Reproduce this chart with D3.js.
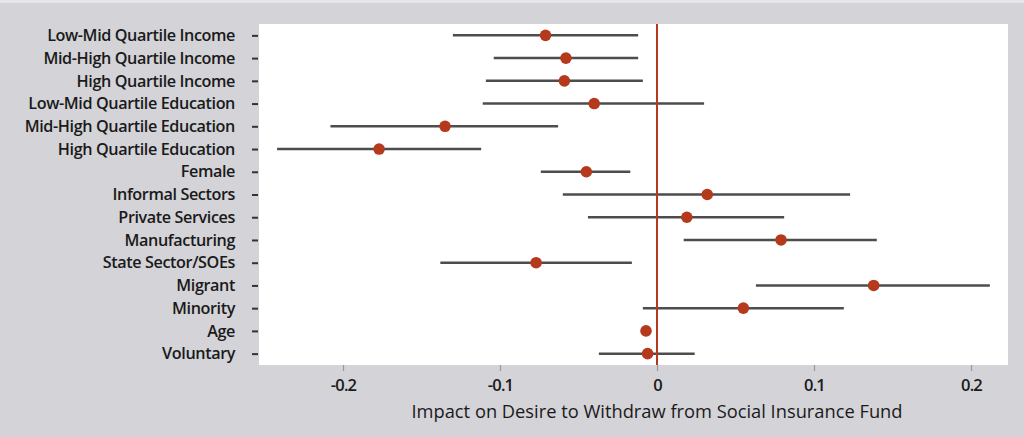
<!DOCTYPE html>
<html>
<head>
<meta charset="utf-8">
<script src="https://cdn.jsdelivr.net/npm/d3@7"></script>
<style>
  html, body { margin: 0; padding: 0; background: #d3d3d8; }
  svg { display: block; }
  text { font-family: "Open Sans", sans-serif; fill: #1a1a1a; }
</style>
</head>
<body>
<div id="root"></div>
<script>
// variables, top to bottom
const labels = [
  "Low-Mid Quartile Income", "Mid-High Quartile Income", "High Quartile Income",
  "Low-Mid Quartile Education", "Mid-High Quartile Education", "High Quartile Education",
  "Female", "Informal Sectors", "Private Services", "Manufacturing",
  "State Sector/SOEs", "Migrant", "Minority", "Age", "Voluntary"
];
const estimate = [-0.071, -0.058, -0.059, -0.040, -0.135, -0.177, -0.045, 0.032, 0.019, 0.079, -0.077, 0.138, 0.055, -0.007, -0.006];
const lower    = [-0.130, -0.104, -0.109, -0.111, -0.208, -0.242, -0.074, -0.060, -0.044, 0.017, -0.138, 0.063, -0.009, -0.007, -0.037];
const upper    = [-0.012, -0.012, -0.009, 0.030, -0.063, -0.112, -0.017, 0.123, 0.081, 0.140, -0.016, 0.212, 0.119, -0.007, 0.024];
const xTicks = [-0.2, -0.1, 0, 0.1, 0.2];
const xTitle = "Impact on Desire to Withdraw from Social Insurance Fund";

const width = 1024, height = 437;
const plot = { left: 259, top: 24, right: 1008, bottom: 365 };

const svg = d3.select('#root').append('svg')
    .attr('width', width)
    .attr('height', height);

svg.append('rect')
    .attr('width', width).attr('height', height)
    .attr('fill', '#d3d3d8');
// thin lighter strip along the top edge
svg.append('rect')
    .attr('width', width).attr('height', 3)
    .attr('fill', '#e6e6e9');

svg.append('rect')
    .attr('x', plot.left).attr('y', plot.top)
    .attr('width', plot.right - plot.left)
    .attr('height', plot.bottom - plot.top)
    .attr('fill', '#ffffff');

// 0 sits at x=657, 0.1 per ~157px
const x = d3.scaleLinear()
    .domain([0, 0.1])
    .range([657, 814]);

const y = d3.scalePoint()
    .domain(labels)
    .range([plot.top, plot.bottom])
    .padding(0.5);

// y axis: labels and small dashes outside the white panel
const yAxis = svg.append('g')
    .attr('transform', 'translate(' + (plot.left - 1) + ',0)')
    .call(d3.axisLeft(y).tickSize(6).tickPadding(17));
yAxis.select('.domain').remove();
yAxis.selectAll('.tick line').attr('stroke', '#333').attr('stroke-width', 2);
yAxis.selectAll('.tick text')
    .attr('font-size', '16.2px')
    .attr('font-weight', 600)
    .attr('fill', '#1a1a1a')
    .attr('letter-spacing', '-0.4px')
    .attr('font-family', '"Open Sans", sans-serif');

// x axis
const xAxis = svg.append('g')
    .attr('transform', 'translate(0,' + plot.bottom + ')')
    .call(d3.axisBottom(x).tickValues(xTicks).tickSize(6).tickPadding(8)
      .tickFormat(d => d === 0 ? '0' : d3.format('.1f')(d).replace('\u2212', '-')));
xAxis.select('.domain').remove();
xAxis.selectAll('.tick line').attr('stroke', '#9a9a9e').attr('stroke-width', 1.2);
xAxis.selectAll('.tick text')
    .attr('font-size', '16.5px')
    .attr('font-weight', 600)
    .attr('fill', '#1a1a1a')
    .attr('letter-spacing', '-0.8px')
    .attr('font-family', '"Open Sans", sans-serif');

svg.append('text')
    .attr('x', 657)
    .attr('y', 418)
    .attr('text-anchor', 'middle')
    .attr('font-size', '18.3px')
    .attr('font-weight', 500)
    .text(xTitle);

const rows = labels.map((d, i) => ({ id: d, est: estimate[i], lo: lower[i], hi: upper[i] }));

const g = svg.append('g').attr('class', 'marks');

// confidence intervals
g.selectAll('.ci')
    .data(rows.filter(d => d.hi > d.lo))
    .enter().append('line')
    .attr('class', 'ci')
    .attr('x1', d => x(d.lo))
    .attr('x2', d => x(d.hi))
    .attr('y1', d => y(d.id))
    .attr('y2', d => y(d.id))
    .attr('stroke', '#4d4d4d')
    .attr('stroke-width', 2.5);

// zero reference line
g.append('line')
    .attr('x1', x(0)).attr('x2', x(0))
    .attr('y1', plot.top).attr('y2', plot.bottom)
    .attr('stroke', '#b5391c')
    .attr('stroke-width', 2);

// point estimates
g.selectAll('.pt')
    .data(rows)
    .enter().append('circle')
    .attr('class', 'pt')
    .attr('cx', d => x(d.est))
    .attr('cy', d => y(d.id))
    .attr('r', 5.8)
    .attr('fill', '#b5391c');
</script>
</body>
</html>
